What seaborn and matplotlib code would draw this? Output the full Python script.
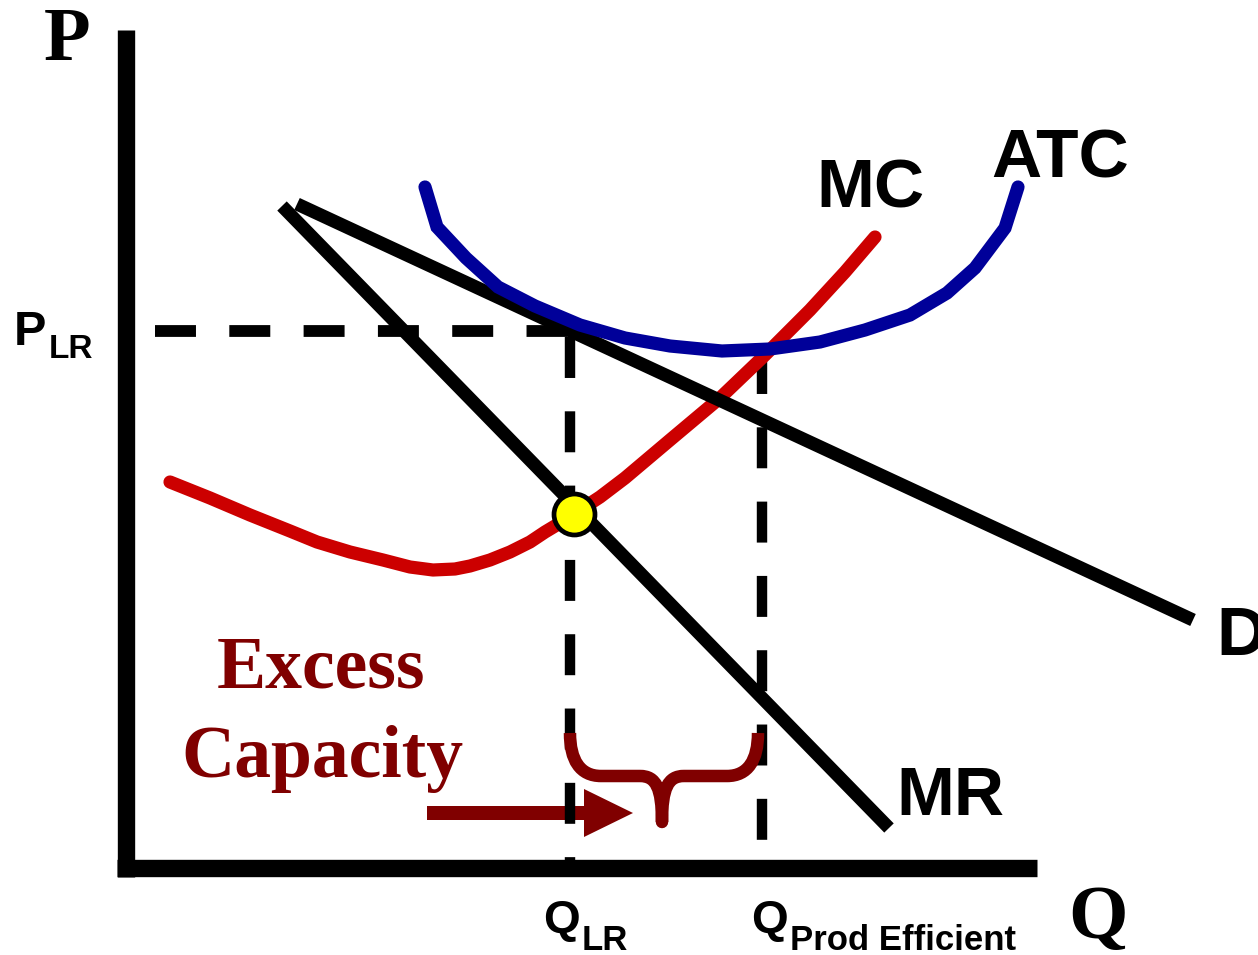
import numpy as np
import pandas as pd
import matplotlib
matplotlib.use("Agg")
import matplotlib.pyplot as plt
from matplotlib.path import Path
from matplotlib.patches import PathPatch, FancyArrow
import seaborn as sns

# ---- data (quantity Q, price P) ----
mc_q = [4.4, 8.4, 12.4, 16.4, 19.1, 22.4, 25.7, 28.4, 30.7, 32.9, 34.4, 36.4, 38.4,
        40.4, 41.9, 43.4, 44.8, 47.4, 49.9, 54.4, 59.4, 63.9, 68.4, 71.9, 74.9]
mc_p = [38.6, 37.0, 35.3, 33.7, 32.6, 31.6, 30.8, 30.1, 29.8, 29.9, 30.2, 30.8, 31.6,
        32.6, 33.6, 34.5, 35.4, 37.1, 39.0, 42.8, 47.0, 51.3, 55.8, 59.6, 63.1]

atc_q = [29.9, 31.1, 34.0, 37.2, 40.9, 45.4, 49.9, 54.4, 59.6, 64.4, 69.4, 73.9, 78.4, 82.1, 84.9, 87.9, 89.2]
atc_p = [68.1, 64.1, 61.0, 58.1, 56.2, 54.3, 53.0, 52.2, 51.7, 51.9, 52.6, 53.8, 55.3, 57.5, 60.0, 64.0, 68.1]

demand_q = [17.1, 106.7]
demand_p = [66.4, 24.8]

mr_q = [15.6, 76.3]
mr_p = [66.2, 4.0]

q_lr = 44.4          # long-run output
q_eff = 63.6         # productively efficient output (min ATC)
p_lr = 53.7          # long-run price
eq_q, eq_p = 44.8, 35.4   # MR = MC

q_max, p_max = 91.1, 83.8  # axis extents

sns.set_theme(style="white")
plt.rcParams["lines.scale_dashes"] = False
plt.rcParams["text.color"] = "black"

fig = plt.figure(figsize=(12.58, 9.55), dpi=100)
ax = fig.add_axes([0, 0, 1, 1])
ax.set_xlim(-12.6, 113.2)
ax.set_ylim(-8.7, 86.8)
ax.axis("off")

DARK_RED = "#800000"
dash = (0, (29.5, 24))

# dashed guides
ax.plot([2.9, q_lr], [p_lr, p_lr], color="black", lw=8.5, linestyle=dash, dash_capstyle="butt", zorder=1)
ax.plot([q_lr, q_lr], [p_lr - 0.6, 0], color="black", lw=7.5, linestyle=dash, dash_capstyle="butt", zorder=1)
ax.plot([q_eff, q_eff], [51.7 - 0.2, 0], color="black", lw=7.5, linestyle=dash, dash_capstyle="butt", zorder=1)

# cost and revenue curves
curves = pd.DataFrame({"Q": mc_q, "P": mc_p})
sns.lineplot(data=curves, x="Q", y="P", sort=False, estimator=None, color="#CC0000",
             linewidth=9.5, ax=ax, zorder=2, solid_capstyle="round", solid_joinstyle="round")
sns.lineplot(x=demand_q, y=demand_p, sort=False, estimator=None, color="black",
             linewidth=9.5, ax=ax, zorder=3, solid_capstyle="butt")
sns.lineplot(x=mr_q, y=mr_p, sort=False, estimator=None, color="black",
             linewidth=9.5, ax=ax, zorder=3, solid_capstyle="butt")
sns.lineplot(x=atc_q, y=atc_p, sort=False, estimator=None, color="#000099",
             linewidth=9.5, ax=ax, zorder=4, solid_capstyle="round", solid_joinstyle="miter")

# axes
half = 0.85
ax.plot([0, 0], [-half, p_max], color="black", lw=12.5, solid_capstyle="butt", zorder=5)
ax.plot([-half, q_max], [0, 0], color="black", lw=12.5, solid_capstyle="butt", zorder=5)

# MR = MC point
ax.plot([eq_q], [eq_p], marker="o", markersize=29.5, markerfacecolor="#FFFF00",
        markeredgecolor="black", markeredgewidth=3.4, zorder=6, linestyle="none")

# excess capacity brace
top, mid, tip = 13.5, 9.2, 4.6
tip_q = (q_lr + q_eff) / 2 - 0.4
right = q_eff - 0.4
verts = [
    (q_lr, top),
    (q_lr, mid + 1.6), (q_lr + 1.0, mid), (q_lr + 3.1, mid),
    (tip_q - 2.2, mid),
    (tip_q - 0.6, mid), (tip_q, mid - 1.2), (tip_q, tip),
    (tip_q, mid - 1.2), (tip_q + 0.6, mid), (tip_q + 2.2, mid),
    (right - 3.1, mid),
    (right - 1.0, mid), (right, mid + 1.6), (right, top),
]
codes = [Path.MOVETO,
         Path.CURVE4, Path.CURVE4, Path.CURVE4,
         Path.LINETO,
         Path.CURVE4, Path.CURVE4, Path.CURVE4,
         Path.CURVE4, Path.CURVE4, Path.CURVE4,
         Path.LINETO,
         Path.CURVE4, Path.CURVE4, Path.CURVE4]
brace = PathPatch(Path(verts, codes), facecolor="none", edgecolor=DARK_RED, lw=9,
                  capstyle="butt", joinstyle="round", zorder=3)
ax.add_patch(brace)

# arrow pointing at the gap
ax.add_patch(FancyArrow(30.1, 5.5, 20.6, 0, width=1.4, head_width=4.8, head_length=4.9,
                        length_includes_head=True, color=DARK_RED, lw=0, zorder=0.5))

# labels
sans = "Liberation Sans"
serif = "Liberation Serif"
ax.text(-5.9, 80.8, "P", fontsize=55, fontweight="bold", family=serif, ha="center", va="baseline")
ax.text(97.2, -7.0, "Q", fontsize=55, fontweight="bold", family=serif, ha="center", va="baseline")

ax.text(-11.2, 52.3, "P", fontsize=35, fontweight="bold", family=sans, ha="left", va="baseline")
ax.text(-7.7, 51.0, "LR", fontsize=24, fontweight="bold", family=sans, ha="left", va="baseline")

ax.text(41.7, -6.5, "Q", fontsize=34, fontweight="bold", family=sans, ha="left", va="baseline")
ax.text(45.6, -8.2, "LR", fontsize=25, fontweight="bold", family=sans, ha="left", va="baseline")
ax.text(62.5, -6.5, "Q", fontsize=34, fontweight="bold", family=sans, ha="left", va="baseline")
ax.text(66.4, -8.2, "Prod Efficient", fontsize=25, fontweight="bold", family=sans, ha="left", va="baseline")

ax.text(69.0, 66.1, "MC", fontsize=50, fontweight="bold", family=sans, ha="left", va="baseline")
ax.text(86.5, 69.1, "ATC", fontsize=50, fontweight="bold", family=sans, ha="left", va="baseline")
ax.text(109.0, 21.3, "D", fontsize=50, fontweight="bold", family=sans, ha="left", va="baseline")
ax.text(77.0, 5.3, "MR", fontsize=50, fontweight="bold", family=sans, ha="left", va="baseline")

ax.text(19.5, 18.0, "Excess", fontsize=53, fontweight="bold", family=serif, color=DARK_RED,
        ha="center", va="baseline")
ax.text(19.6, 9.1, "Capacity", fontsize=53, fontweight="bold", family=serif, color=DARK_RED,
        ha="center", va="baseline")

fig.savefig("out.png", dpi=100, facecolor="white")
